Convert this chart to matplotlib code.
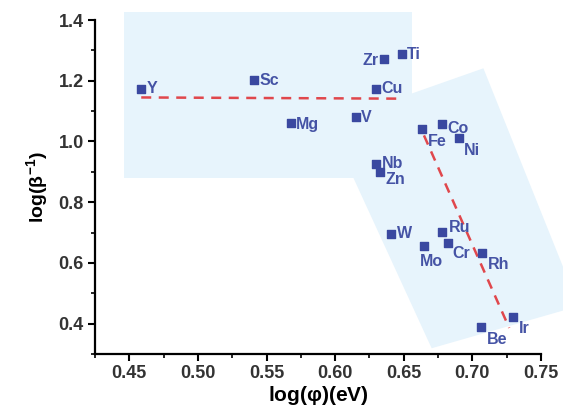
import matplotlib.pyplot as plt
from matplotlib.patches import Polygon, Rectangle

plt.rcParams['font.family'] = ['Liberation Sans', 'DejaVu Sans']
plt.rcParams['mathtext.fontset'] = 'custom'
plt.rcParams['mathtext.rm'] = 'Liberation Sans:bold'
plt.rcParams['mathtext.it'] = 'Liberation Sans:bold'
plt.rcParams['mathtext.bf'] = 'Liberation Sans:bold'

# metals, log work function and log inverse beta
metals = ['Y', 'Sc', 'Mg', 'V', 'Cu', 'Zr', 'Ti', 'Fe', 'Co', 'Ni', 'Nb', 'Zn',
          'W', 'Ru', 'Mo', 'Cr', 'Rh', 'Be', 'Ir']
log_phi = [0.4585, 0.5405, 0.5675, 0.615, 0.6295, 0.6355, 0.6485, 0.6635, 0.678,
           0.690, 0.630, 0.6325, 0.641, 0.678, 0.665, 0.682, 0.707, 0.7065, 0.7295]
log_beta = [1.174, 1.201, 1.062, 1.080, 1.173, 1.270, 1.287, 1.042, 1.056,
            1.012, 0.926, 0.901, 0.696, 0.702, 0.656, 0.667, 0.632, 0.390, 0.421]

# two linear trends
fit1_x = [0.4587, 0.6495]
fit1_y = [1.145, 1.141]
fit2_x = [0.6647, 0.7268]
fit2_y = [1.020, 0.386]

# label offsets in points (dx, dy, ha)
offsets = {
    'Y': (4, 0, 'left'), 'Sc': (4, 0, 'left'), 'Mg': (4, -1, 'left'),
    'V': (4, 0, 'left'), 'Cu': (4, 0, 'left'), 'Zr': (-4, -1, 'right'),
    'Ti': (4, 0, 'left'), 'Fe': (4, -9, 'left'), 'Co': (4, -3, 'left'),
    'Ni': (4, -9, 'left'), 'Nb': (4, 0, 'left'), 'Zn': (4, -6, 'left'),
    'W': (4, 0, 'left'), 'Ru': (5, 3, 'left'), 'Mo': (-3, -11, 'left'),
    'Cr': (3, -8, 'left'), 'Rh': (4, -8, 'left'), 'Be': (4, -9, 'left'),
    'Ir': (4, -8, 'left'),
}

fig = plt.figure(figsize=(5.63, 4.17), dpi=100)
ax = fig.add_axes([0.1687, 0.151, 0.7923, 0.801])

shade = '#e7f4fc'
ax.add_patch(Rectangle((0.4464, 0.881), 0.2094, 0.545, facecolor=shade,
                       edgecolor='none', clip_on=False, zorder=0))
ax.add_patch(Polygon([(0.5949, 1.061), (0.708, 1.241), (0.7775, 0.458), (0.6703, 0.319)],
                     closed=True, facecolor=shade, edgecolor='none', clip_on=False, zorder=0))

ax.plot(fit1_x, fit1_y, color='#e0474c', lw=1.8, dashes=(4, 3), zorder=2)
ax.plot(fit2_x, fit2_y, color='#e0474c', lw=1.8, dashes=(4, 3), zorder=2)

ax.scatter(log_phi, log_beta, marker='s', s=34, color='#3a48a0', zorder=3)
for name, x, y in zip(metals, log_phi, log_beta):
    dx, dy, ha = offsets[name]
    ax.annotate(name, (x, y), xytext=(dx, dy), textcoords='offset points',
                ha=ha, va='center', fontsize=11.5, fontweight='bold', color='#4553a5', zorder=4)

ax.set_xlim(0.426, 0.75)
ax.set_ylim(0.3, 1.4)
ax.set_xticks([0.45, 0.50, 0.55, 0.60, 0.65, 0.70, 0.75])
ax.set_xticks([0.425 + 0.05 * i for i in range(7)], minor=True)
ax.set_yticks([0.4, 0.6, 0.8, 1.0, 1.2, 1.4])
ax.set_yticks([0.3, 0.5, 0.7, 0.9, 1.1, 1.3], minor=True)
ax.set_xticklabels(['0.45', '0.50', '0.55', '0.60', '0.65', '0.70', '0.75'])
ax.set_yticklabels(['0.4', '0.6', '0.8', '1.0', '1.2', '1.4'])

for side in ['top', 'right']:
    ax.spines[side].set_visible(False)
for side in ['left', 'bottom']:
    ax.spines[side].set_linewidth(1.6)
ax.patch.set_visible(False)
ax.tick_params(which='major', direction='out', length=5, width=1.5, labelsize=13,
               labelcolor='#333333', pad=3)
ax.tick_params(which='minor', direction='out', length=3, width=1.2)
for lbl in ax.get_xticklabels() + ax.get_yticklabels():
    lbl.set_fontweight('bold')

ax.set_xlabel('log$(\\varphi)$(eV)', fontsize=15, fontweight='bold', labelpad=1)
ax.set_ylabel('log$(\\beta^{-1})$', fontsize=14, fontweight='bold', labelpad=6)

fig.savefig('out.png', dpi=100)
